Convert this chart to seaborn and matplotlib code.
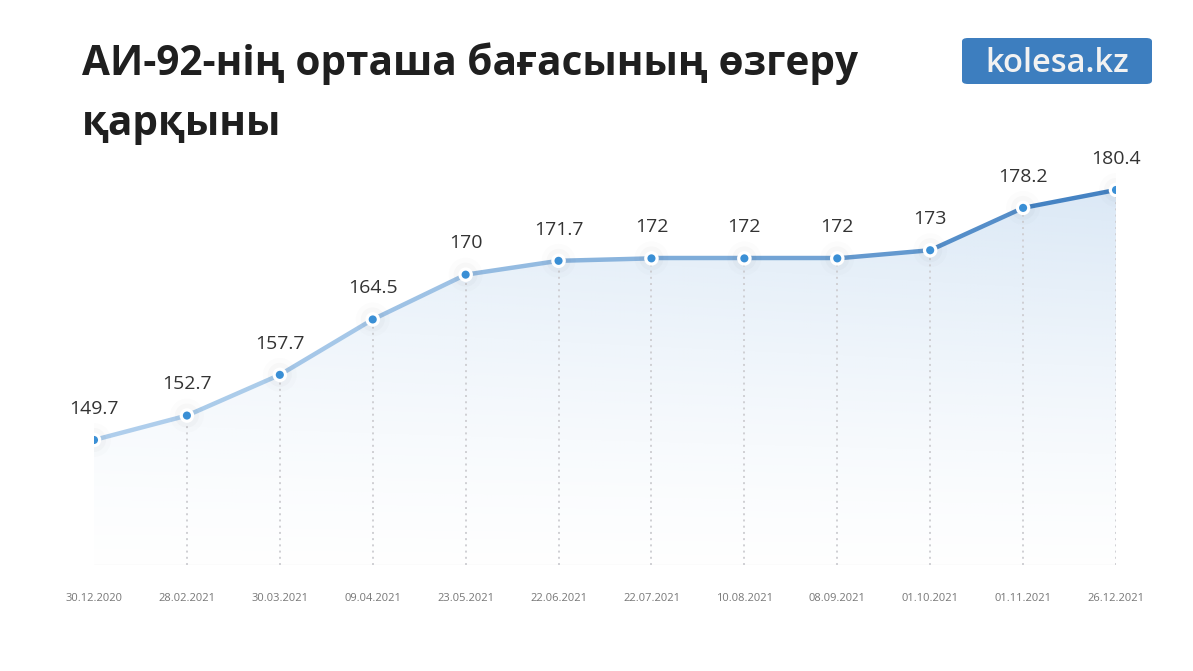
import numpy as np
import pandas as pd
import matplotlib
matplotlib.use("Agg")
import matplotlib.pyplot as plt
import seaborn as sns
from matplotlib.colors import to_rgb
from matplotlib.patches import FancyBboxPatch

# ---- data ----
dates = ["30.12.2020", "28.02.2021", "30.03.2021", "09.04.2021", "23.05.2021", "22.06.2021",
         "22.07.2021", "10.08.2021", "08.09.2021", "01.10.2021", "01.11.2021", "26.12.2021"]
prices = [149.7, 152.7, 157.7, 164.5, 170, 171.7, 172, 172, 172, 173, 178.2, 180.4]
price_labels = ["149.7", "152.7", "157.7", "164.5", "170", "171.7", "172", "172", "172", "173", "178.2", "180.4"]
title = "АИ-92-нің орташа бағасының өзгеру\nқарқыны"
brand = "kolesa.kz"

df = pd.DataFrame({"i": np.arange(len(dates)), "date": dates, "price": prices})

sns.set_theme(style="white")
plt.rcParams["font.family"] = ["Open Sans", "DejaVu Sans"]

W, H = 1193, 671
fig = plt.figure(figsize=(W / 100, H / 100), dpi=100)
fig.patch.set_facecolor("white")

x0, x1 = 94, 1116
yb, yt = 565, 152.5
ax = fig.add_axes([x0 / W, (H - yb) / H, (x1 - x0) / W, (yb - yt) / H])
ymin, ymax = 134.35, 185.0
ax.set_xlim(0, len(dates) - 1)
ax.set_ylim(ymin, ymax)
ax.set_facecolor("none")
for s in ax.spines.values():
    s.set_visible(False)
ax.set_yticks([])
ax.set_xticks([])

# area fill with vertical gradient, clipped to polygon
poly = ax.fill_between(df["i"], df["price"], ymin, color="none", lw=0)
ny, nx = 256, 256
grad = np.zeros((ny, nx, 4))
base = np.array(to_rgb("#cfe1f3"))
yy = np.linspace(1, 0, ny)[:, None]
xx = np.linspace(0, 1, nx)[None, :]
alpha = (0.02 + 0.75 * yy ** 1.3) * (0.75 + 0.25 * xx)
grad[..., :3] = base
grad[..., 3] = alpha
im = ax.imshow(grad, extent=[0, len(dates) - 1, ymin, 181.5], aspect="auto", origin="upper",
               zorder=1, interpolation="bilinear")
path = poly.get_paths()[0]
im.set_clip_path(path, transform=ax.transData)

# baseline
ax.axhline(ymin + 0.05, color="#f2f2f2", lw=1, zorder=1)

# dotted verticals
for i in range(1, len(dates)):
    ax.plot([i, i], [ymin, prices[i]], color="#cfcfd3", lw=1.4, ls=(0, (1, 2.2)), zorder=2)

# line with color gradient
c0 = np.array(to_rgb("#b0cfec"))
c1 = np.array(to_rgb("#3d7dc0"))
n = len(dates)
for k in range(n - 1):
    t = ((k + 0.5) / (n - 1)) ** 1.6
    col = c0 * (1 - t) + c1 * t
    seg = df.iloc[k:k + 2]
    sns.lineplot(data=seg, x="i", y="price", ax=ax, color=col, lw=3.2, zorder=3,
                 solid_capstyle="round", legend=False)

# marker halos, white rings, blue centers
sns.scatterplot(data=df, x="i", y="price", ax=ax, s=600, color="#000000", alpha=0.012,
                edgecolor="none", zorder=3, legend=False)
sns.scatterplot(data=df, x="i", y="price", ax=ax, s=300, color="#000000", alpha=0.018,
                edgecolor="none", zorder=3, legend=False)
sns.scatterplot(data=df, x="i", y="price", ax=ax, s=110, color="white",
                edgecolor="none", zorder=4, legend=False)
sns.scatterplot(data=df, x="i", y="price", ax=ax, s=34, color="#3a8fd5",
                edgecolor="none", zorder=5, legend=False)
ax.set_xlabel("")
ax.set_ylabel("")

# value labels
for i, (p, lab) in enumerate(zip(prices, price_labels)):
    ax.annotate(lab, (i, p), xytext=(0, 16), textcoords="offset points", ha="center",
                va="bottom", fontsize=14, color="#333333", zorder=6)

# x tick labels
for i, d in enumerate(dates):
    ax.annotate(d, (i, ymin), xytext=(0, -24), textcoords="offset points", ha="center",
                va="center", fontsize=8, color="#777777", annotation_clip=False)

# title
fig.text(82 / W, 1 - 42 / H, title, ha="left", va="top", fontsize=29.2, fontweight="bold",
         color="#1f1f1f", linespacing=1.62)

# brand box
bx0, by0, bx1, by1 = 962, 38, 1152, 84
box = FancyBboxPatch((bx0 / W, 1 - by1 / H), (bx1 - bx0) / W, (by1 - by0) / H,
                     boxstyle="round,pad=0,rounding_size=0.005", transform=fig.transFigure,
                     facecolor="#3d7ebf", edgecolor="none")
fig.patches.append(box)
fig.text((bx0 + bx1) / 2 / W, 1 - (by0 + by1) / 2 / H - 0.004, brand, ha="center", va="center",
         fontsize=23.5, fontweight="semibold", color="#f2f2f2")

fig.savefig("out.png", dpi=100, facecolor="white")
